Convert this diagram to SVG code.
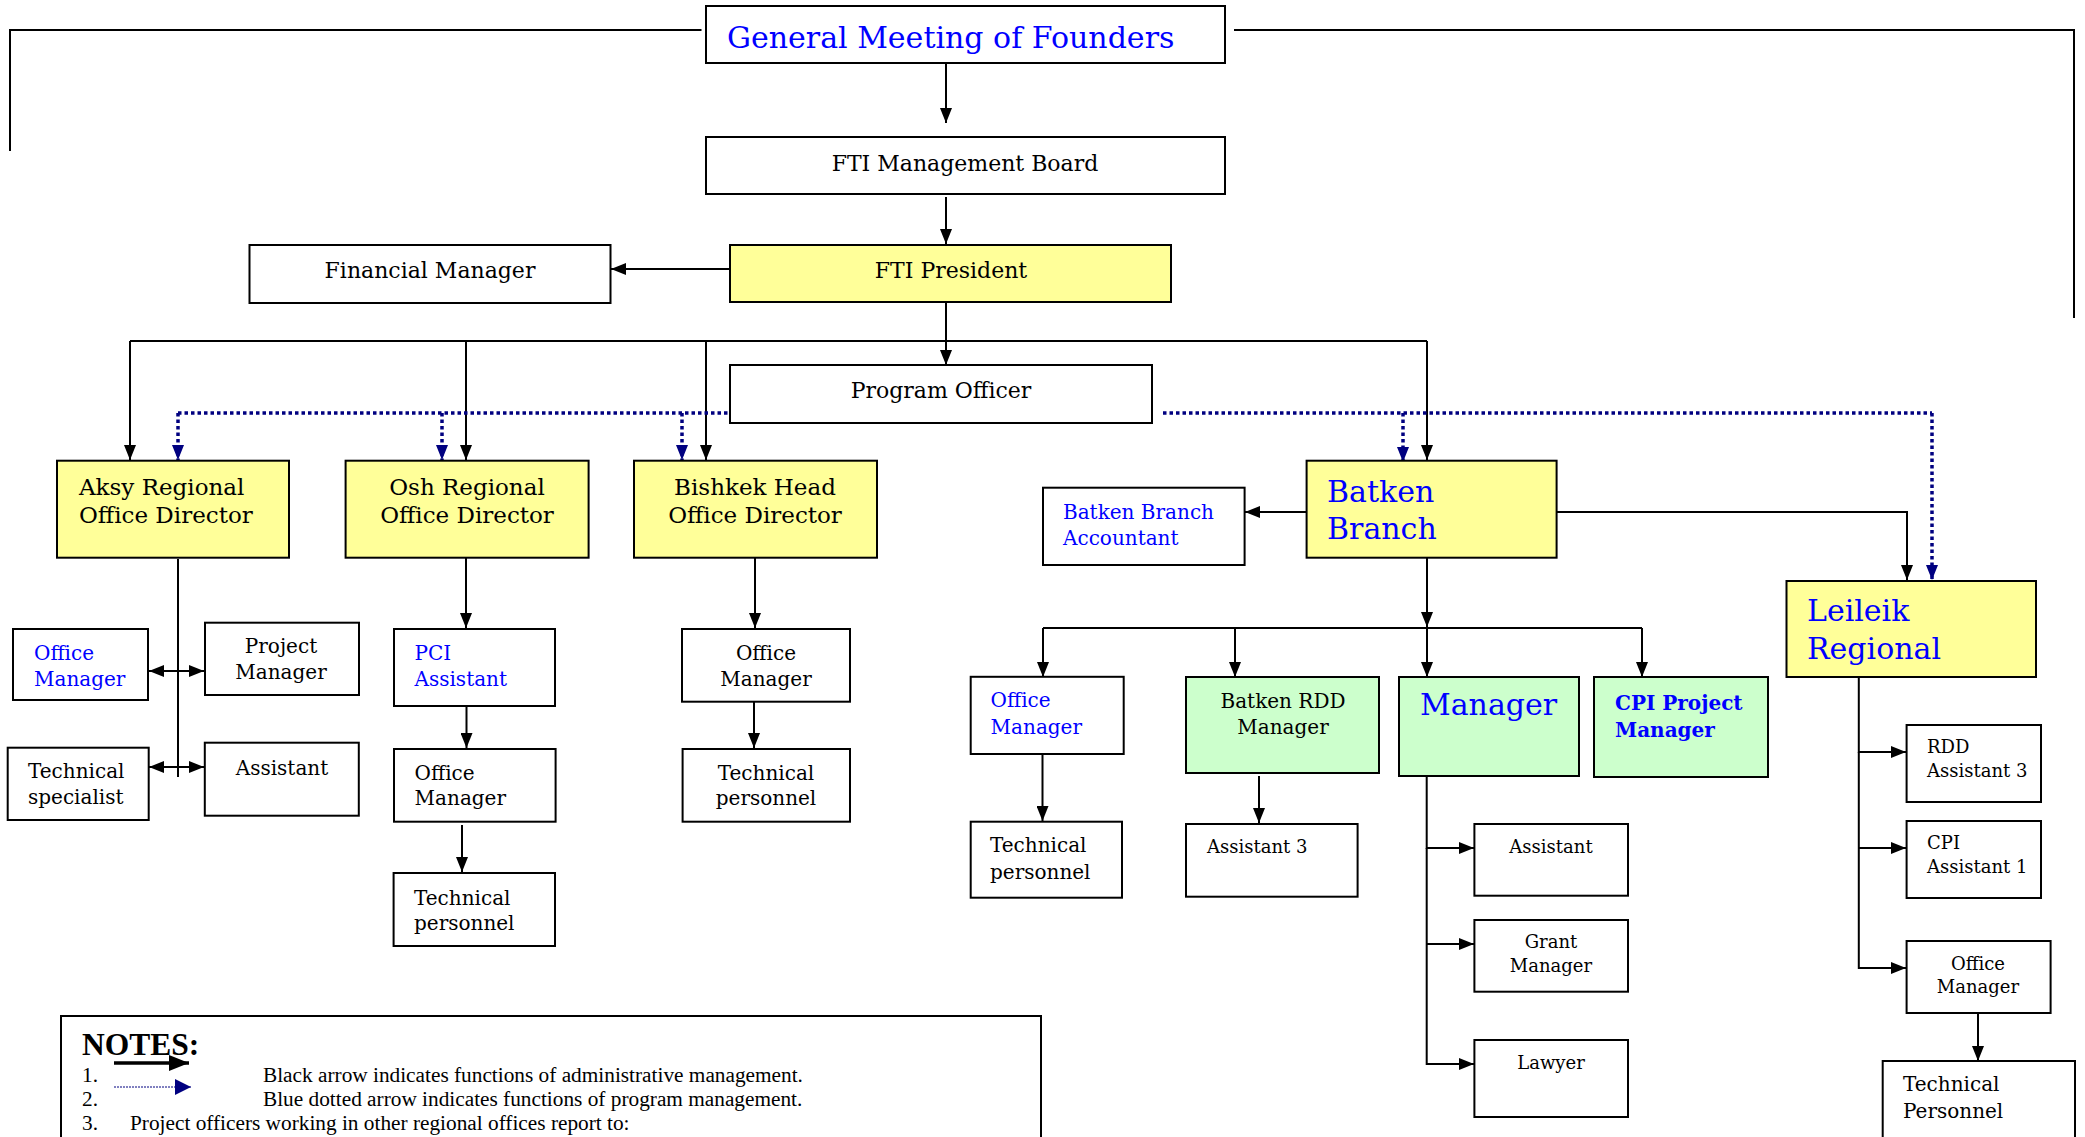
<svg xmlns="http://www.w3.org/2000/svg" width="2085" height="1137" viewBox="0 0 2085 1137">
<defs>
<style>
.b{fill:#fff;stroke:#000;stroke-width:2}
.y{fill:#ffff99;stroke:#000;stroke-width:2}
.g{fill:#ccffcc;stroke:#000;stroke-width:2}
text{font-family:"DejaVu Serif","Liberation Serif",serif;fill:#000}
.t22{font-size:22px}
.t23{font-size:23px}
.t20{font-size:20px}
.t18{font-size:18px}
.big{font-size:30px;fill:#0000ff}
.blue{fill:#0000ff}
.m{text-anchor:middle}
.c{fill:none;stroke:#000;stroke-width:2}
.ca{fill:none;stroke:#000;stroke-width:2;marker-end:url(#a)}
.d{fill:none;stroke:#000080;stroke-width:3.5;stroke-dasharray:3.5 3}
.da{fill:none;stroke:#000080;stroke-width:3.5;stroke-dasharray:3.5 3;marker-end:url(#ba)}
.n{font-family:"Liberation Serif","Times New Roman",serif;font-size:21.3px}
</style>
<marker id="a" markerWidth="16" markerHeight="12" refX="15" refY="6" orient="auto-start-reverse" markerUnits="userSpaceOnUse"><path d="M0,0L15,6L0,12z" fill="#000"/></marker>
<marker id="ba" markerWidth="16" markerHeight="12" refX="15" refY="6" orient="auto" markerUnits="userSpaceOnUse"><path d="M0,0L15,6L0,12z" fill="#000080"/></marker>
<marker id="na" markerWidth="22" markerHeight="16" refX="20" refY="8" orient="auto" markerUnits="userSpaceOnUse"><path d="M0,0L20,8L0,16z" fill="#000"/></marker>
<marker id="nb" markerWidth="18" markerHeight="16" refX="16" refY="8" orient="auto" markerUnits="userSpaceOnUse"><path d="M0,0L16,8L0,16z" fill="#000080"/></marker>
</defs>
<rect width="2085" height="1137" fill="#fff"/>

<g id="connectors">
<polyline class="c" points="701.5,30 10,30 10,151"/>
<polyline class="c" points="1234,30 2074,30 2074,318"/>
<line class="ca" x1="946" y1="54" x2="946" y2="123"/>
<line class="ca" x1="946" y1="197" x2="946" y2="244"/>
<line class="ca" x1="730" y1="269" x2="611" y2="269"/>
<line class="ca" x1="946" y1="295" x2="946" y2="365"/>
<line class="c" x1="130" y1="341" x2="1427" y2="341"/>
<line class="ca" x1="130" y1="341" x2="130" y2="460"/>
<line class="ca" x1="466" y1="341" x2="466" y2="460"/>
<line class="ca" x1="706" y1="341" x2="706" y2="460"/>
<line class="ca" x1="1427" y1="341" x2="1427" y2="460"/>
<line class="d" x1="178" y1="413" x2="730" y2="413"/>
<line class="d" x1="1163" y1="413" x2="1932" y2="413"/>
<line class="da" x1="178" y1="413" x2="178" y2="460"/>
<line class="da" x1="442" y1="413" x2="442" y2="460"/>
<line class="da" x1="682" y1="413" x2="682" y2="460"/>
<line class="da" x1="1403" y1="413" x2="1403" y2="462"/>
<line class="da" x1="1932" y1="413" x2="1932" y2="580"/>
<line class="ca" x1="1306" y1="512" x2="1245" y2="512"/>
<polyline class="ca" points="1548,512 1907,512 1907,580"/>
<line class="ca" x1="1427" y1="558" x2="1427" y2="627"/>
<line class="c" x1="1043" y1="628" x2="1642" y2="628"/>
<line class="ca" x1="1043" y1="628" x2="1043" y2="677"/>
<line class="ca" x1="1235" y1="628" x2="1235" y2="677"/>
<line class="ca" x1="1427" y1="628" x2="1427" y2="677"/>
<line class="ca" x1="1642" y1="628" x2="1642" y2="677"/>
<line class="ca" x1="1042.5" y1="751" x2="1042.5" y2="821"/>
<line class="ca" x1="1259" y1="776" x2="1259" y2="823"/>
<polyline class="ca" points="1426.7,776 1426.7,848 1474,848"/>
<polyline class="ca" points="1426.7,944 1474,944"/>
<polyline class="ca" points="1426.7,848 1426.7,1064 1474,1064"/>
<polyline class="ca" points="1858.8,677 1858.8,752 1906,752"/>
<polyline class="ca" points="1858.8,848 1906,848"/>
<polyline class="ca" points="1858.8,752 1858.8,968 1906,968"/>
<line class="ca" x1="1978" y1="1013" x2="1978" y2="1061"/>
<line class="c" x1="178" y1="559" x2="178" y2="777"/>
<line class="c" x1="149" y1="671" x2="204" y2="671" style="marker-start:url(#a);marker-end:url(#a)"/>
<line class="c" x1="149" y1="767" x2="204" y2="767" style="marker-start:url(#a);marker-end:url(#a)"/>
<line class="ca" x1="466" y1="558" x2="466" y2="628"/>
<line class="ca" x1="466.5" y1="700" x2="466.5" y2="748"/>
<line class="ca" x1="462" y1="825" x2="462" y2="872"/>
<line class="ca" x1="755" y1="558" x2="755" y2="628"/>
<line class="ca" x1="754" y1="701" x2="754" y2="748"/>
</g>

<g id="gm"><rect class="b" x="706" y="6" width="519" height="57"/><text class="big" x="727" y="48">General Meeting of Founders</text></g>
<g id="board"><rect class="b" x="706" y="137" width="519" height="57"/><text class="t22 m" x="965" y="171">FTI Management Board</text></g>
<g id="president"><rect class="y" x="730" y="245" width="441" height="57"/><text class="t22 m" x="951" y="278">FTI President</text></g>
<g id="financial"><rect class="b" x="249.5" y="245" width="361" height="58"/><text class="t22 m" x="430" y="278">Financial Manager</text></g>
<g id="program"><rect class="b" x="730" y="365" width="422" height="58"/><text class="t22 m" x="941" y="398">Program Officer</text></g>
<g id="aksy"><rect class="y" x="57" y="460.7" width="232" height="97"/><text class="t23" x="79" y="495">Aksy Regional<tspan x="79" y="523">Office Director</tspan></text></g>
<g id="osh"><rect class="y" x="345.6" y="460.7" width="243" height="97"/><text class="t23 m" x="467" y="495">Osh Regional<tspan x="467" y="523">Office Director</tspan></text></g>
<g id="bishkek"><rect class="y" x="634" y="460.7" width="243" height="97"/><text class="t23 m" x="755" y="495">Bishkek Head<tspan x="755" y="523">Office Director</tspan></text></g>
<g id="batken"><rect class="y" x="1306.6" y="460.7" width="250" height="97"/><text class="big" x="1327" y="502">Batken<tspan x="1327" y="539">Branch</tspan></text></g>
<g id="accountant"><rect class="b" x="1043" y="487.7" width="201.6" height="77.3"/><text class="t20 blue" x="1063" y="519">Batken Branch<tspan x="1063" y="545">Accountant</tspan></text></g>
<g id="leileik"><rect class="y" x="1786.5" y="581" width="249.5" height="96"/><text class="big" x="1807" y="621">Leileik<tspan x="1807" y="659">Regional</tspan></text></g>

<g id="aksy-office"><rect class="b" x="13" y="629" width="135" height="71"/><text class="t20 blue" x="34" y="660">Office<tspan x="34" y="686">Manager</tspan></text></g>
<g id="aksy-pm"><rect class="b" x="205" y="622.7" width="154" height="72.3"/><text class="t20 m" x="281" y="653">Project<tspan x="281" y="679">Manager</tspan></text></g>
<g id="aksy-tech"><rect class="b" x="7.7" y="747.7" width="141" height="72.3"/><text class="t20" x="28" y="778">Technical<tspan x="28" y="804">specialist</tspan></text></g>
<g id="aksy-asst"><rect class="b" x="204.8" y="742.7" width="154" height="73"/><text class="t20 m" x="282" y="775">Assistant</text></g>

<g id="pci"><rect class="b" x="394" y="629" width="161" height="77"/><text class="t20 blue" x="414.5" y="660">PCI<tspan x="414.5" y="686">Assistant</tspan></text></g>
<g id="osh-office"><rect class="b" x="394" y="749" width="161.6" height="72.7"/><text class="t20" x="414.6" y="780">Office<tspan x="414.6" y="805">Manager</tspan></text></g>
<g id="osh-tech"><rect class="b" x="393.6" y="873" width="161.4" height="73"/><text class="t20" x="414" y="905">Technical<tspan x="414" y="930">personnel</tspan></text></g>

<g id="bish-office"><rect class="b" x="682" y="629" width="168" height="72.7"/><text class="t20 m" x="766" y="660">Office<tspan x="766" y="686">Manager</tspan></text></g>
<g id="bish-tech"><rect class="b" x="682.6" y="749" width="167.4" height="72.7"/><text class="t20 m" x="766" y="780">Technical<tspan x="766" y="805">personnel</tspan></text></g>

<g id="bat-office"><rect class="b" x="970.7" y="676.8" width="153" height="77.2"/><text class="t20 blue" x="990.6" y="707">Office<tspan x="990.6" y="734">Manager</tspan></text></g>
<g id="bat-tech"><rect class="b" x="970.7" y="821.7" width="151.3" height="76"/><text class="t20" x="990" y="852">Technical<tspan x="990" y="879">personnel</tspan></text></g>
<g id="rdd"><rect class="g" x="1186" y="677" width="193" height="96"/><text class="t20 m" x="1283" y="708">Batken RDD<tspan x="1283" y="734">Manager</tspan></text></g>
<g id="asst3"><rect class="b" x="1186" y="824" width="171.6" height="72.7"/><text class="t18" x="1207" y="853">Assistant 3</text></g>
<g id="manager"><rect class="g" x="1399" y="677" width="180" height="99"/><text class="big" x="1420" y="715">Manager</text></g>
<g id="cpi"><rect class="g" x="1594" y="677" width="174" height="100"/><text class="t20 blue" font-weight="bold" x="1615" y="710">CPI Project<tspan x="1615" y="737">Manager</tspan></text></g>
<g id="m-asst"><rect class="b" x="1474.4" y="824" width="153.6" height="71.7"/><text class="t18 m" x="1551" y="853">Assistant</text></g>
<g id="m-grant"><rect class="b" x="1474.4" y="920" width="153.6" height="71.7"/><text class="t18 m" x="1551" y="948">Grant<tspan x="1551" y="972">Manager</tspan></text></g>
<g id="m-lawyer"><rect class="b" x="1474.4" y="1040" width="153.6" height="77"/><text class="t18 m" x="1551" y="1069">Lawyer</text></g>

<g id="l-rdd"><rect class="b" x="1906.6" y="725" width="134.4" height="77"/><text class="t18" x="1927" y="753">RDD<tspan x="1927" y="777">Assistant 3</tspan></text></g>
<g id="l-cpi"><rect class="b" x="1906.6" y="821" width="134.4" height="77"/><text class="t18" x="1927" y="849">CPI<tspan x="1927" y="873">Assistant 1</tspan></text></g>
<g id="l-office"><rect class="b" x="1906.6" y="941" width="144" height="72"/><text class="t18 m" x="1978" y="970">Office<tspan x="1978" y="993">Manager</tspan></text></g>
<g id="l-tech"><rect class="b" x="1882.7" y="1061" width="192.3" height="100"/><text class="t20" x="1903" y="1091">Technical<tspan x="1903" y="1118">Personnel</tspan></text></g>

<g id="notes">
<rect class="b" x="61" y="1016" width="980" height="160"/>
<text x="82" y="1055" style="font-family:'Liberation Serif','Times New Roman',serif;font-size:31.5px;font-weight:bold">NOTES:</text>
<line x1="114" y1="1063" x2="189" y2="1063" stroke="#000" stroke-width="3.5" marker-end="url(#na)"/>
<line x1="114" y1="1087" x2="191" y2="1087" stroke="#000080" stroke-width="1" stroke-dasharray="2 1" marker-end="url(#nb)"/>
<text class="n" x="82" y="1082">1.</text>
<text class="n" x="263" y="1082">Black arrow indicates functions of administrative management.</text>
<text class="n" x="82" y="1106">2.</text>
<text class="n" x="263" y="1106">Blue dotted arrow indicates functions of program management.</text>
<text class="n" x="82" y="1130">3.</text>
<text class="n" x="130" y="1130">Project officers working in other regional offices report to:</text>
</g>
</svg>
